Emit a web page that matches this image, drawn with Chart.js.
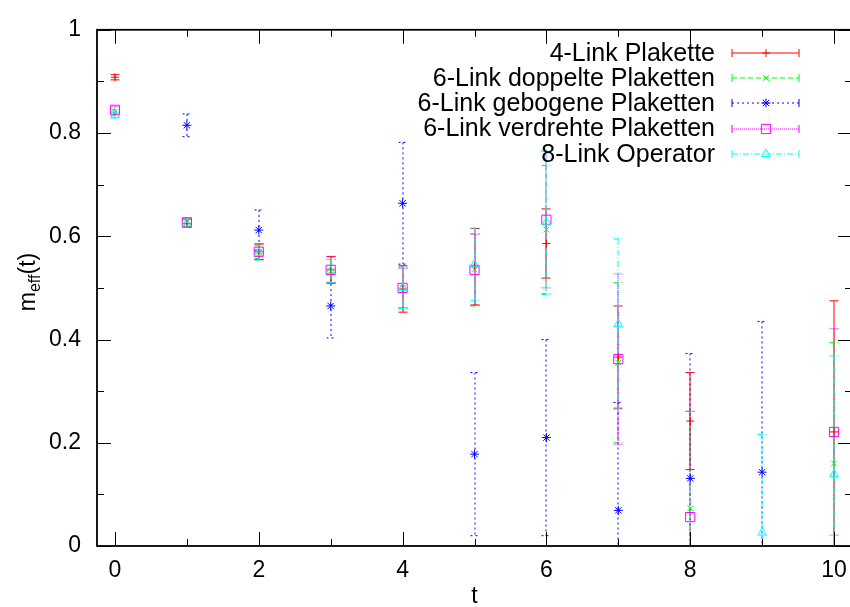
<html>

<head>
    <meta charset="utf-8">
    <script src="https://cdn.jsdelivr.net/npm/chart.js@4.4.0/dist/chart.umd.min.js"></script>

    <style>
        html, body {
            margin: 0;
            padding: 0;
            background-color: #ffffff;
            overflow: hidden;
        }
    </style>

</head>

<body>
    <canvas id="myChart" width="860" height="607"></canvas>
</body>
<script>

    // values
    var tValues = [0, 1, 2, 3, 4, 5, 6, 7, 8, 9, 10];

    var plakette4 = [0.908, 0.625, 0.570, 0.535, 0.498, 0.541, 0.586, 0.366, 0.242, null, 0.221];
    var plakette4Err = [0.005, 0.008, 0.015, 0.026, 0.045, 0.074, 0.067, 0.099, 0.094, null, 0.254];

    var doppelte6 = [0.840, 0.627, 0.570, 0.533, 0.500, 0.535, 0.613, 0.355, 0.073, null, 0.160];
    var doppelte6Err = [0.006, 0.008, 0.013, 0.022, 0.040, 0.070, 0.124, 0.155, 0.188, null, 0.234];

    var gebogene6 = [null, 0.815, 0.612, 0.465, 0.664, 0.178, 0.210, 0.069, 0.131, 0.143, null];
    var gebogene6Err = [null, 0.022, 0.039, 0.062, 0.118, 0.158, 0.190, 0.209, 0.242, 0.292, null];

    var verdrehte6 = [0.845, 0.627, 0.570, 0.535, 0.500, 0.535, 0.632, 0.362, 0.056, null, 0.221];
    var verdrehte6Err = [0.006, 0.008, 0.016, 0.025, 0.038, 0.069, 0.132, 0.165, 0.205, null, 0.200];

    var operator8 = [0.835, 0.625, 0.568, 0.533, 0.500, 0.546, 0.627, 0.430, null, 0.026, 0.139];
    var operator8Err = [0.006, 0.008, 0.014, 0.022, 0.040, 0.070, 0.140, 0.165, null, 0.190, 0.229];

    var seriesNames = ['4-Link Plakette', '6-Link doppelte Plaketten', '6-Link gebogene Plaketten',
        '6-Link verdrehte Plaketten', '8-Link Operator'];

    var xTickLabels = [0, 2, 4, 6, 8, 10];
    var yTickLabels = [0, 0.2, 0.4, 0.6, 0.8, 1];

    // styles (gnuplot look)
    var seriesColors = ['#ff0000', '#00ff00', '#0000ff', '#ff00ff', '#00ffff'];
    var seriesDashes = [[], [5, 3], [2, 3], [1, 1], [6, 2, 1, 2]];
    var seriesMarkers = ['cross', 'crossRot', 'star', 'rect', 'triangle'];
    var seriesRadius = [4, 4, 4.5, 6.5, 5];

    var fontFamily = "'Liberation Sans', Arial, Helvetica, sans-serif";

    var allValues = [plakette4, doppelte6, gebogene6, verdrehte6, operator8];
    var allErrors = [plakette4Err, doppelte6Err, gebogene6Err, verdrehte6Err, operator8Err];


    function makePoints(values, errors) {
        var pts = [];
        for (var i = 0; i < tValues.length; i++) {
            if (values[i] === null) continue;
            pts.push({ x: tValues[i], y: values[i], err: errors[i] });
        }
        return pts;
    }

    var datasets = [];
    for (var s = 0; s < seriesNames.length; s++) {
        datasets.push({
            label: seriesNames[s],
            data: makePoints(allValues[s], allErrors[s]),
            showLine: false,
            borderColor: seriesColors[s],
            backgroundColor: 'rgba(0,0,0,0)',
            pointStyle: seriesMarkers[s],
            pointRadius: seriesRadius[s],
            pointBorderWidth: 1,
            order: seriesNames.length - s
        });
    }


    // vertical error bars with caps, drawn under the points
    var errorBarPlugin = {
        id: 'errorBars',
        beforeDatasetsDraw: function (chart) {
            var ctx = chart.ctx;
            var area = chart.chartArea;
            var xs = chart.scales.x, ys = chart.scales.y;
            ctx.save();
            ctx.beginPath();
            ctx.rect(area.left, area.top, area.right - area.left, area.bottom - area.top);
            ctx.clip();
            ctx.lineWidth = 1;
            chart.data.datasets.forEach(function (ds, si) {
                ctx.strokeStyle = seriesColors[si];
                ctx.setLineDash(seriesDashes[si]);
                ds.data.forEach(function (p) {
                    var px = Math.round(xs.getPixelForValue(p.x));
                    var yTop = ys.getPixelForValue(p.y + p.err);
                    var yBot = ys.getPixelForValue(p.y - p.err);
                    ctx.beginPath();
                    ctx.moveTo(px, yTop);
                    ctx.lineTo(px, yBot);
                    ctx.moveTo(px - 4.5, yTop);
                    ctx.lineTo(px + 4.5, yTop);
                    ctx.moveTo(px - 4.5, yBot);
                    ctx.lineTo(px + 4.5, yBot);
                    ctx.stroke();
                });
            });
            ctx.restore();
        }
    };


    // plot frame, inward ticks on all sides, axis titles and the key
    var framePlugin = {
        id: 'frame',
        afterDraw: function (chart) {
            var ctx = chart.ctx;
            var a = chart.chartArea;
            var xs = chart.scales.x, ys = chart.scales.y;
            ctx.save();
            ctx.strokeStyle = '#000';
            ctx.lineWidth = 1;
            ctx.setLineDash([]);

            ctx.beginPath();
            // y ticks (major every 0.2, minor every 0.1)
            for (var k = 0; k <= 10; k++) {
                var py = Math.round(ys.getPixelForValue(k / 10)) + 0.5;
                var len = (k % 2 == 0) ? 14 : 7;
                ctx.moveTo(a.left, py); ctx.lineTo(a.left + len, py);
                ctx.moveTo(a.right, py); ctx.lineTo(a.right - len, py);
            }
            // x ticks (major every 2, minor every 1)
            for (var t = 0; t <= 10; t++) {
                var px = Math.round(xs.getPixelForValue(t)) + 0.5;
                var l2 = (t % 2 == 0) ? 14 : 7;
                ctx.moveTo(px, a.bottom); ctx.lineTo(px, a.bottom - l2);
                ctx.moveTo(px, a.top); ctx.lineTo(px, a.top + l2);
            }
            ctx.stroke();

            ctx.lineWidth = 1.8;
            ctx.strokeRect(a.left, a.top, a.right - a.left, a.bottom - a.top);

            // axis titles
            ctx.fillStyle = '#000';
            ctx.font = '23px ' + fontFamily;
            ctx.textAlign = 'center';
            ctx.textBaseline = 'alphabetic';
            ctx.fillText('t', (a.left + a.right) / 2, 603);

            ctx.save();
            ctx.translate(35, 282);
            ctx.rotate(-Math.PI / 2);
            ctx.textAlign = 'left';
            ctx.font = '23px ' + fontFamily;
            var wM = ctx.measureText('m').width;
            ctx.font = '16px ' + fontFamily;
            var wSub = ctx.measureText('eff').width;
            ctx.font = '23px ' + fontFamily;
            var wT = ctx.measureText('(t)').width;
            var start = -(wM + wSub + wT) / 2;
            ctx.fillText('m', start, 0);
            ctx.font = '16px ' + fontFamily;
            ctx.fillText('eff', start + wM, 5);
            ctx.font = '23px ' + fontFamily;
            ctx.fillText('(t)', start + wM + wSub, 0);
            ctx.restore();

            // key
            for (var i = 0; i < seriesNames.length; i++) {
                var ky = 53 + i * 25.2;
                ctx.fillStyle = '#000';
                ctx.font = '25px ' + fontFamily;
                ctx.textAlign = 'right';
                ctx.textBaseline = 'middle';
                ctx.fillText(seriesNames[i], 715, ky + 1);

                var yy = Math.round(ky);
                ctx.strokeStyle = seriesColors[i];
                ctx.lineWidth = 1;
                ctx.setLineDash(seriesDashes[i]);
                ctx.beginPath();
                ctx.moveTo(732, yy); ctx.lineTo(799, yy);
                ctx.stroke();
                ctx.setLineDash([]);
                ctx.beginPath();
                ctx.moveTo(732, yy - 4); ctx.lineTo(732, yy + 4);
                ctx.moveTo(799, yy - 4); ctx.lineTo(799, yy + 4);
                ctx.stroke();

                ctx.fillStyle = 'rgba(0,0,0,0)';
                Chart.helpers.drawPoint(ctx, {
                    pointStyle: seriesMarkers[i],
                    radius: seriesRadius[i],
                    rotation: 0,
                    borderWidth: 1
                }, 766, yy);
            }
            ctx.restore();
        }
    };


    var paintingCanvas = document.getElementById('myChart').getContext('2d');
    var chart = new Chart(paintingCanvas, {
        type: 'scatter',
        data: { datasets: datasets },
        plugins: [errorBarPlugin, framePlugin],
        options: {
            responsive: false,
            animation: false,
            layout: { padding: { top: 13, right: 8, left: 0, bottom: 0 } },
            plugins: {
                legend: { display: false },
                tooltip: { enabled: false }
            },
            scales: {
                x: {
                    type: 'linear',
                    min: -0.25,
                    max: 10.25,
                    grid: { display: false, drawTicks: false },
                    border: { display: false },
                    afterBuildTicks: function (scale) {
                        scale.ticks = xTickLabels.map(function (v) { return { value: v }; });
                    },
                    afterFit: function (scale) { scale.height = 61; },
                    ticks: {
                        padding: 11,
                        color: '#000',
                        autoSkip: false,
                        maxRotation: 0,
                        font: { family: fontFamily, size: 23 },
                        callback: function (v) { return String(v); }
                    }
                },
                y: {
                    type: 'linear',
                    min: 0,
                    max: 1,
                    grid: { display: false, drawTicks: false },
                    border: { display: false },
                    afterBuildTicks: function (scale) {
                        scale.ticks = yTickLabels.map(function (v) { return { value: v }; });
                    },
                    afterFit: function (scale) { scale.width = 97; },
                    ticks: {
                        padding: 16,
                        color: '#000',
                        autoSkip: false,
                        font: { family: fontFamily, size: 23 },
                        callback: function (v) { return String(v); }
                    }
                }
            }
        }
    });

</script>

</html>
